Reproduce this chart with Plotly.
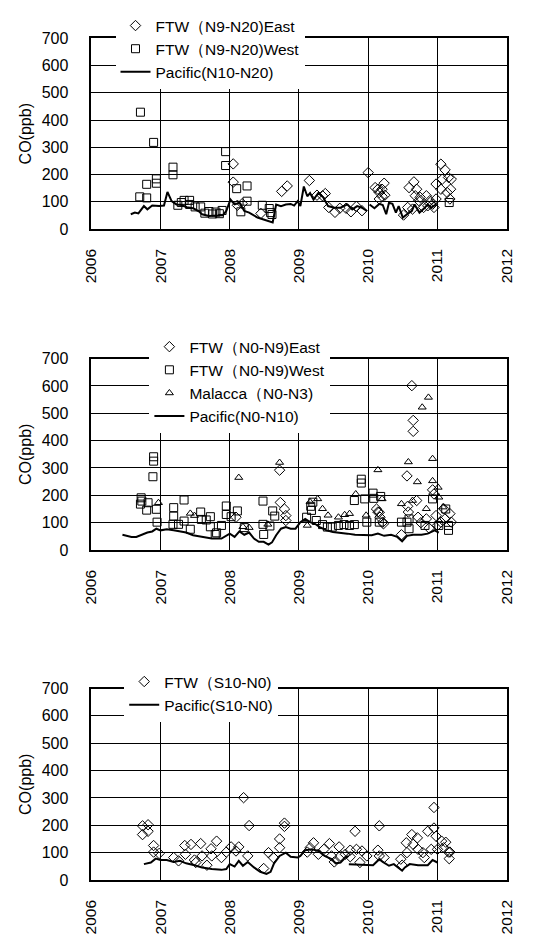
import plotly.graph_objects as go

# ---------------- Panel 1 : N9-N20 ----------------
p1_east_x = [2008.05, 2008.05, 2008.11, 2008.18, 2008.45, 2008.75, 2008.83, 2009.15, 2009.26, 2009.34,
             2009.38, 2009.43, 2009.52, 2009.59, 2009.68, 2009.75, 2009.83, 2009.91, 2010.00, 2010.10,
             2010.14, 2010.16, 2010.16, 2010.20, 2010.20, 2010.23, 2010.24, 2010.51, 2010.57, 2010.59,
             2010.64, 2010.66, 2010.68, 2010.70, 2010.73, 2010.75, 2010.80, 2010.84, 2010.86, 2010.89,
             2010.93, 2010.95, 2010.98, 2010.98, 2011.05, 2011.05, 2011.07, 2011.11, 2011.14, 2011.16,
             2011.18, 2011.19, 2011.20]
p1_east_y = [239, 172, 87, 93, 57, 138, 158, 178, 124, 122,
             130, 79, 61, 76, 76, 63, 83, 67, 207, 152,
             146, 134, 110, 120, 146, 168, 124, 51, 79, 152,
             73, 173, 122, 146, 104, 116, 79, 122, 85, 104,
             91, 79, 110, 165, 238, 146, 183, 217, 134, 189,
             110, 146, 183]
p1_west_x = [2006.71, 2006.70, 2006.80, 2006.80, 2006.90, 2006.94, 2006.94, 2007.18, 2007.18, 2007.25,
             2007.30, 2007.34, 2007.42, 2007.42, 2007.50, 2007.58, 2007.64, 2007.70, 2007.75, 2007.80,
             2007.85, 2007.89, 2007.94, 2007.94, 2008.10, 2008.16, 2008.25, 2008.25, 2008.47, 2008.57,
             2008.59, 2008.61, 2011.17]
p1_west_y = [429, 118, 114, 164, 318, 184, 168, 227, 199, 87,
             97, 105, 105, 90, 81, 81, 58, 64, 55, 62,
             56, 68, 284, 233, 148, 63, 158, 102, 87, 75,
             60, 53, 97]
p1_pac_x = [2006.57, 2006.63, 2006.68, 2006.76, 2006.81, 2006.88, 2006.98, 2007.05, 2007.10, 2007.16,
            2007.23, 2007.30, 2007.38, 2007.47, 2007.55, 2007.60, 2007.70, 2007.84, 2007.90, 2007.95,
            2008.01, 2008.07, 2008.14, 2008.21, 2008.28, 2008.40, 2008.51, 2008.62, 2008.67, 2008.74,
            2008.81, 2008.88, 2008.93, 2008.98, 2009.02, 2009.07, 2009.12, 2009.16, 2009.21, 2009.28,
            2009.35, 2009.42, 2009.51, 2009.60, 2009.70, 2009.77, 2009.84, 2009.91, 2009.98, 2009.99,
            2010.02, 2010.09, 2010.16, 2010.21, 2010.26, 2010.30, 2010.35, 2010.40, 2010.44, 2010.50,
            2010.56, 2010.63, 2010.67, 2010.74, 2010.81, 2010.86, 2010.91, 2010.98]
p1_pac_y = [54, 60, 57, 84, 72, 86, 84, 86, 136, 102,
            90, 88, 80, 76, 66, 54, 48, 48, 50, 66,
            108, 90, 96, 66, 60, 42, 32, 24, 90, 84,
            90, 92, 86, 102, 84, 156, 120, 132, 108, 132,
            116, 84, 78, 78, 90, 72, 84, 78, 66, None,
            90, 76, 92, 88, 54, 96, 92, 60, 84, 42,
            54, 66, 90, 60, 76, 90, 78, 90]

# ---------------- Panel 2 : N0-N9 ----------------
p2_east_x = [2008.09, 2008.72, 2008.73, 2008.79, 2008.81, 2008.81, 2010.12, 2010.14, 2010.16, 2010.17,
             2010.21, 2010.22, 2010.48, 2010.56, 2010.63, 2010.65, 2010.65, 2010.57, 2010.58, 2010.70,
             2010.72, 2010.76, 2010.84, 2010.88, 2010.93, 2010.95, 2010.98, 2011.00, 2011.05, 2011.09,
             2011.11, 2011.18, 2011.20]
p2_east_y = [120, 292, 174, 150, 126, 108, 150, 139, 138, 120,
             102, 96, 56, 271, 601, 474, 434, 160, 139, 181,
             120, 100, 114, 80, 220, 205, 126, 90, 102, 151,
             114, 133, 102]
p2_west_x = [2006.72, 2006.73, 2006.71, 2006.80, 2006.82, 2006.90, 2006.90, 2006.89, 2006.94, 2006.95,
             2007.19, 2007.19, 2007.18, 2007.34, 2007.26, 2007.34, 2007.43, 2007.58, 2007.59, 2007.66,
             2007.72, 2007.72, 2007.79, 2007.81, 2007.88, 2007.95, 2007.95, 2008.11, 2008.02, 2008.21,
             2008.48, 2008.48, 2008.49, 2008.62, 2008.65, 2008.58, 2009.11, 2009.17, 2009.20, 2009.18,
             2009.25, 2009.34, 2009.41, 2009.48, 2009.57, 2009.65, 2009.73, 2009.80, 2009.80, 2009.90,
             2009.90, 2009.95, 2009.98, 2010.07, 2010.08, 2010.18, 2010.16, 2010.48, 2010.56, 2010.59,
             2010.59, 2010.93, 2010.82, 2011.02, 2011.16, 2011.16, 2011.12]
p2_west_y = [191, 179, 168, 146, 173, 341, 325, 268, 149, 102,
             155, 124, 94, 183, 94, 106, 76, 139, 112, 110,
             122, 85, 57, 63, 90, 161, 130, 143, 122, 82,
             179, 94, 57, 143, 124, 88, 120, 160, 175, 145,
             108, 93, 84, 84, 90, 93, 90, 93, 181, 259,
             245, 187, 102, 208, 189, 196, 102, 102, 102, 114,
             78, 187, 90, 90, 90, 72, 150]
p2_mal_x = [2006.97, 2007.43, 2007.49, 2008.13, 2008.19, 2008.28, 2008.55, 2008.72, 2009.12, 2009.16,
            2009.27, 2009.34, 2009.42, 2009.57, 2009.66, 2009.73, 2009.82, 2009.97, 2010.14, 2010.20,
            2010.48, 2010.58, 2010.64, 2010.71, 2010.78, 2010.84, 2010.87, 2010.93, 2010.93, 2011.01,
            2011.02, 2011.08]
p2_mal_y = [173, 134, 126, 265, 85, 82, 94, 320, 90, 176,
            187, 151, 127, 120, 129, 133, 205, 127, 293, 187,
            169, 322, 181, 249, 522, 151, 558, 334, 253, 229,
            193, 157]
p2_pac_x = [2006.45, 2006.58, 2006.65, 2006.72, 2006.81, 2006.88, 2006.94, 2007.00, 2007.09, 2007.19,
            2007.28, 2007.37, 2007.47, 2007.60, 2007.74, 2007.88, 2008.00, 2008.07, 2008.14, 2008.21,
            2008.28, 2008.35, 2008.42, 2008.49, 2008.56, 2008.61, 2008.67, 2008.74, 2008.81, 2008.88,
            2008.95, 2009.02, 2009.09, 2009.16, 2009.23, 2009.30, 2009.40, 2009.49, 2009.58, 2009.70,
            2009.81, 2009.93, 2010.05, 2010.14, 2010.23, 2010.33, 2010.42, 2010.49, 2010.56, 2010.65,
            2010.77, 2010.86, 2010.96, 2011.02]
p2_pac_y = [56, 48, 48, 56, 64, 68, 78, 72, 76, 72,
            68, 64, 54, 48, 42, 42, 60, 48, 68, 56,
            64, 42, 30, 30, 20, 28, 54, 78, 84, 78,
            78, 102, 114, 102, 96, 84, 72, 66, 64, 60,
            56, 54, 54, 60, 52, 56, 48, 32, 52, 56,
            56, 60, 72, 64]

# ---------------- Panel 3 : S10-N0 ----------------
p3_ftw_x = [2006.74, 2006.74, 2006.82, 2006.82, 2006.90, 2006.90, 2006.98, 2007.19, 2007.26, 2007.35,
            2007.36, 2007.44, 2007.49, 2007.51, 2007.58, 2007.60, 2007.67, 2007.73, 2007.74, 2007.81,
            2007.88, 2007.95, 2008.02, 2008.09, 2008.13, 2008.20, 2008.26, 2008.28, 2008.49, 2008.56,
            2008.63, 2008.72, 2008.72, 2008.79, 2008.79, 2009.12, 2009.16, 2009.21, 2009.28, 2009.36,
            2009.44, 2009.47, 2009.51, 2009.58, 2009.60, 2009.67, 2009.74, 2009.74, 2009.81, 2009.83,
            2009.91, 2009.88, 2009.98, 2010.16, 2010.14, 2010.16, 2010.23, 2010.47, 2010.49, 2010.55,
            2010.56, 2010.63, 2010.65, 2010.71, 2010.72, 2010.79, 2010.81, 2010.86, 2010.91, 2010.95,
            2010.95, 2010.98, 2011.00, 2011.06, 2011.09, 2011.12, 2011.16, 2011.17, 2011.18]
p3_ftw_y = [198, 166, 202, 178, 126, 102, 97, 82, 70, 126,
            94, 130, 73, 64, 133, 88, 54, 114, 88, 142,
            82, 102, 121, 106, 121, 301, 88, 199, 42, 100,
            82, 150, 118, 208, 196, 102, 118, 136, 94, 112,
            133, 88, 66, 121, 88, 94, 109, 85, 178, 112,
            106, 64, 88, 198, 109, 88, 82, 76, 54, 136,
            100, 166, 130, 154, 112, 100, 82, 178, 112, 265,
            190, 160, 112, 142, 118, 138, 102, 78, 102]
p3_pac1_x = [2006.76, 2006.86, 2006.93, 2007.00, 2007.09, 2007.19, 2007.28, 2007.37, 2007.49, 2007.60,
             2007.74, 2007.88, 2007.95, 2008.00, 2008.07, 2008.13, 2008.19, 2008.26, 2008.35, 2008.44,
             2008.53, 2008.59, 2008.64, 2008.72, 2008.81, 2008.88, 2008.98, 2009.02, 2009.09, 2009.19,
             2009.28, 2009.37, 2009.47, 2009.53, 2009.60, 2009.67, 2009.72]
p3_pac1_y = [58, 64, 78, 73, 73, 66, 70, 61, 54, 46,
             40, 37, 40, 58, 49, 70, 52, 66, 46, 30,
             22, 30, 61, 88, 100, 85, 82, 88, 109, 112,
             106, 88, 76, 61, 64, 82, 88]
p3_pac2_x = [2009.72, 2009.85, 2009.98, 2010.07, 2010.16, 2010.21, 2010.30, 2010.37, 2010.49, 2010.53,
             2010.60, 2010.72, 2010.86, 2010.93, 2011.00]
p3_pac2_y = [58, 56, 54, 54, 76, 66, 52, 58, 34, 46,
             58, 54, 54, 73, 64]

years = [2006, 2007, 2008, 2009, 2010, 2011, 2012]
year_labels = [str(y) for y in years]
y_ticks = [0, 100, 200, 300, 400, 500, 600, 700]

FONT = "Liberation Sans, Arial, sans-serif"
W, H = 535, 943

fig = go.Figure()

def add_scatter(x, y, name, symbol, n, legend, size=8):
    fig.add_trace(go.Scatter(
        x=x, y=y, mode="markers", name=name,
        marker=dict(symbol=symbol, size=size, color="black",
                    line=dict(color="black", width=1)),
        xaxis="x" if n == 1 else f"x{n}", yaxis="y" if n == 1 else f"y{n}",
        legend=legend))

def add_line(x, y, name, n, legend, show=True):
    fig.add_trace(go.Scatter(
        x=x, y=y, mode="lines", name=name, showlegend=show,
        line=dict(color="black", width=2),
        xaxis="x" if n == 1 else f"x{n}", yaxis="y" if n == 1 else f"y{n}",
        legend=legend, connectgaps=False))

add_scatter(p1_east_x, p1_east_y, "FTW（N9-N20)East", "diamond-open", 1, "legend")
add_scatter(p1_west_x, p1_west_y, "FTW（N9-N20)West", "square-open", 1, "legend")
add_line(p1_pac_x, p1_pac_y, "Pacific(N10-N20)", 1, "legend")

add_scatter(p2_east_x, p2_east_y, "FTW（N0-N9)East", "diamond-open", 2, "legend2")
add_scatter(p2_west_x, p2_west_y, "FTW（N0-N9)West", "square-open", 2, "legend2")
add_scatter(p2_mal_x, p2_mal_y, "Malacca（N0-N3)", "triangle-up-open", 2, "legend2", size=7)
add_line(p2_pac_x, p2_pac_y, "Pacific(N0-N10)", 2, "legend2")

add_scatter(p3_ftw_x, p3_ftw_y, "FTW（S10-N0)", "diamond-open", 3, "legend3")
add_line(p3_pac1_x, p3_pac1_y, "Pacific(S10-N0)", 3, "legend3")
add_line(p3_pac2_x, p3_pac2_y, "Pacific(S10-N0)", 3, "legend3", show=False)

x_dom = [85 / W, 514 / W]
panels = [(31, 225), (357, 552), (693, 888)]

layout = dict(width=W, height=H, margin=dict(l=0, r=0, t=0, b=0),
              paper_bgcolor="white", plot_bgcolor="white",
              font=dict(family=FONT, size=16, color="black"))

for i, (top, bot) in enumerate(panels, start=1):
    xs = "xaxis" if i == 1 else f"xaxis{i}"
    ys = "yaxis" if i == 1 else f"yaxis{i}"
    anchor_x = "y" if i == 1 else f"y{i}"
    anchor_y = "x" if i == 1 else f"x{i}"
    layout[xs] = dict(domain=x_dom, anchor=anchor_x, range=[2006, 2012],
                      tickmode="array", tickvals=years, ticktext=year_labels,
                      tickangle=-90, showgrid=True, gridcolor="black", gridwidth=1,
                      showline=True, linecolor="black", linewidth=1.5, mirror=True,
                      zeroline=False, ticks="", ticklabelstandoff=12,
                      tickfont=dict(size=15.5))
    layout[ys] = dict(domain=[1 - bot / H, 1 - top / H], anchor=anchor_y, range=[0, 700],
                      tickmode="array", tickvals=y_ticks,
                      showgrid=True, gridcolor="black", gridwidth=1,
                      showline=True, linecolor="black", linewidth=1.5, mirror=True,
                      zeroline=False, ticks="", ticklabelstandoff=18,
                      tickfont=dict(size=16),
                      title=dict(text="CO(ppb)", font=dict(size=16), standoff=6))

leg_common = dict(bgcolor="white", borderwidth=0, font=dict(size=15.5, family=FONT),
                  xanchor="left", yanchor="top", tracegroupgap=0, itemwidth=30)
layout["legend"] = dict(leg_common, x=110 / W, y=1 - 1 / H)
layout["legend2"] = dict(leg_common, x=145 / W, y=1 - 328 / H)
layout["legend3"] = dict(leg_common, x=119 / W, y=1 - 669 / H)

fig.update_layout(**layout)
fig.write_html("out.html")
